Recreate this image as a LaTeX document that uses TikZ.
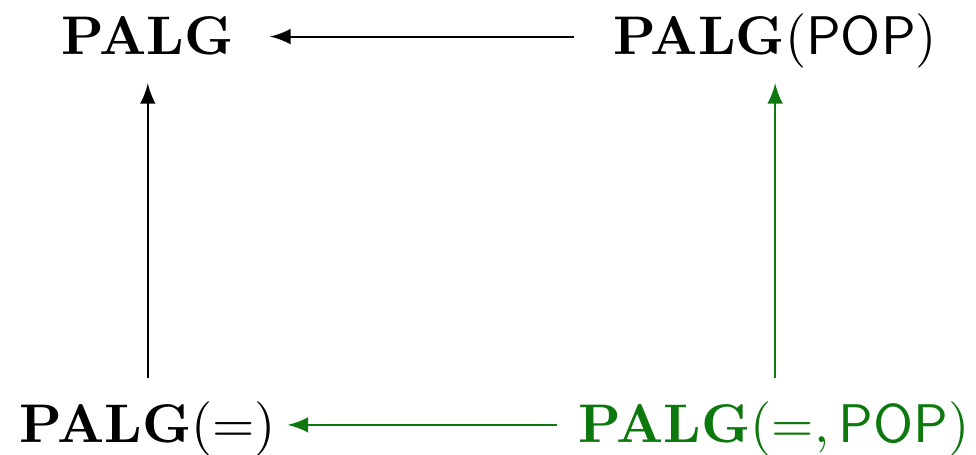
\RequirePackage{fix-cm}
\documentclass[tikz,border=0pt]{standalone}
\usepackage{amsmath}
\usetikzlibrary{arrows}
\definecolor{verde}{rgb}{0.05,0.47,0.05}
\tikzset{
  obj/.style={anchor=base, inner sep=3.33pt, text height=9pt, text depth=2pt,
    font=\fontsize{10.57}{12.7}\selectfont},
  flecha/.style={-latex, line width=0.4pt}
}
\begin{document}
\begin{tikzpicture}[x=1pt,y=1pt]
\useasboundingbox (0,0) rectangle (189.5,88.3);
% Los cuatro objetos del cuadrado
\node[obj] (palg) at (28.7,77.7) {$\mathbf{PALG}$};
\node[obj] (palgpop) at (150.5,77.7) {$\mathbf{PALG}(\mathsf{POP})$};
\node[obj] (palgeq) at (28.7,2.3) {$\mathbf{PALG}(=)$};
\node[obj, text=verde] (palgeqpop) at (150.3,2.3) {$\mathbf{PALG}(=,\mathsf{POP})$};

% Flechas negras
\draw[flecha, shorten >=3.5pt, shorten <=4pt] (palgpop) -- (palg);
\draw[flecha] (palgeq) -- (palg);

% Flechas verdes
\draw[flecha, verde, shorten >=-1.3pt, shorten <=0.8pt] (palgeqpop) -- (palgeq);
\draw[flecha, verde] (palgeqpop.north -| palgpop.south) -- (palgpop.south);
\end{tikzpicture}
\end{document}
